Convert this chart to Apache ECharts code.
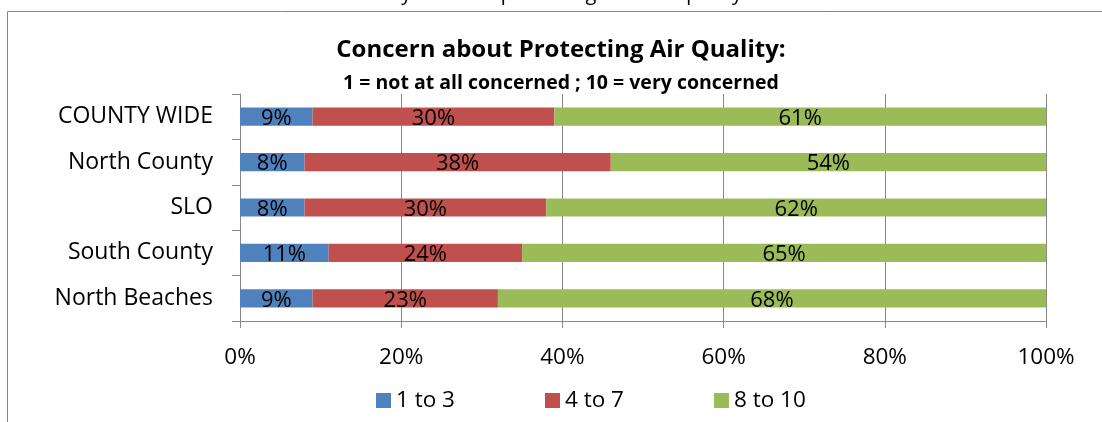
<!DOCTYPE html>
<html>
<head>
<meta charset="utf-8">
<script src="https://cdn.jsdelivr.net/npm/echarts@6/dist/echarts.min.js"></script>
<style>
  html, body { margin: 0; padding: 0; background: #fff; }
  #chart { width: 1102px; height: 422px; }
</style>
</head>
<body>
<div id="chart"></div>
<script>
// data
var regions = ['COUNTY WIDE', 'North County', 'SLO', 'South County', 'North Beaches'];
var low = [9, 8, 8, 11, 9];       // 1 to 3
var mid = [30, 38, 30, 24, 23];   // 4 to 7
var high = [61, 54, 62, 65, 68];  // 8 to 10
var seriesNames = ['1 to 3', '4 to 7', '8 to 10'];
var seriesColors = ['#4F81BD', '#C0504D', '#9BBB59'];
var xTicks = [0, 20, 40, 60, 80, 100];

var font = '"Open Sans", sans-serif';
var gray = '#878787';

var myChart = echarts.init(document.getElementById('chart'));

function barSeries(name, data, color) {
  return {
    name: name,
    type: 'bar',
    stack: 'total',
    barWidth: '40%',
    data: data,
    itemStyle: { color: color },
    label: {
      show: true,
      position: 'inside',
      formatter: '{c}%',
      color: '#000',
      fontFamily: font,
      fontSize: 22,
      offset: [0, 2]
    }
  };
}

var option = {
  animation: false,
  backgroundColor: '#fff',
  graphic: [
    {
      type: 'rect',
      shape: { x: 7.5, y: 11.5, width: 1300, height: 600 },
      style: { fill: 'none', stroke: gray, lineWidth: 1 },
      z: -10
    },
    {
      type: 'text',
      x: 558, y: -6,
      style: {
        text: 'are you about protecting local air quality?',
        font: '20px ' + font,
        fill: '#000',
        align: 'center',
        verticalAlign: 'middle'
      }
    },
    {
      type: 'text',
      x: 561, y: 50,
      style: {
        text: 'Concern about Protecting Air Quality:',
        font: 'bold 24px ' + font,
        fill: '#000',
        align: 'center',
        verticalAlign: 'middle'
      }
    },
    {
      type: 'text',
      x: 561, y: 83,
      style: {
        text: '1 = not at all concerned ; 10 = very concerned',
        font: 'bold 19.5px ' + font,
        fill: '#000',
        align: 'center',
        verticalAlign: 'middle'
      }
    }
  ],
  legend: {
    data: seriesNames,
    left: 371,
    top: 384,
    icon: 'rect',
    itemWidth: 15,
    itemHeight: 15,
    itemGap: 90,
    textStyle: { fontFamily: font, fontSize: 22.5, color: '#000' }
  },
  grid: { left: 240, right: 56, top: 94, bottom: 101 },
  xAxis: {
    type: 'value',
    min: xTicks[0],
    max: xTicks[xTicks.length - 1],
    interval: xTicks[1] - xTicks[0],
    axisLine: { show: true, lineStyle: { color: gray, width: 1 } },
    axisTick: { show: true, length: 7, lineStyle: { color: gray } },
    splitLine: { show: true, lineStyle: { color: gray, width: 1 } },
    axisLabel: {
      formatter: '{value}%',
      color: '#000',
      fontFamily: font,
      fontSize: 22.5,
      margin: 25
    }
  },
  yAxis: {
    type: 'category',
    inverse: true,
    data: regions,
    axisLine: { show: true, lineStyle: { color: gray, width: 1 } },
    axisTick: { show: true, length: 8, lineStyle: { color: gray } },
    axisLabel: {
      color: '#000',
      fontFamily: font,
      fontSize: 23,
      margin: 27
    }
  },
  series: [
    barSeries(seriesNames[0], low, seriesColors[0]),
    barSeries(seriesNames[1], mid, seriesColors[1]),
    barSeries(seriesNames[2], high, seriesColors[2])
  ]
};

myChart.setOption(option);
</script>
</body>
</html>
